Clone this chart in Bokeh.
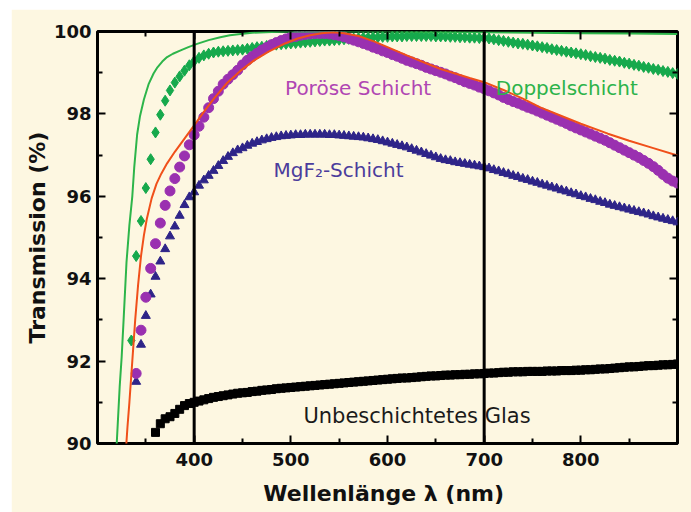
from bokeh.plotting import figure
from bokeh.models import Range1d, FixedTicker, LinearAxis, Span, Label
from bokeh.embed import file_html
from bokeh.resources import INLINE

# ---------------- data ----------------
WL = [335, 340, 345, 350, 355, 360, 365, 370, 375, 380,
      385, 390, 395, 400, 405, 410, 415, 420, 425, 430,
      435, 440, 445, 450, 455, 460, 465, 470, 475, 480,
      485, 490, 495, 500, 505, 510, 515, 520, 525, 530,
      535, 540, 545, 550, 555, 560, 565, 570, 575, 580,
      585, 590, 595, 600, 605, 610, 615, 620, 625, 630,
      635, 640, 645, 650, 655, 660, 665, 670, 675, 680,
      685, 690, 695, 700, 705, 710, 715, 720, 725, 730,
      735, 740, 745, 750, 755, 760, 765, 770, 775, 780,
      785, 790, 795, 800, 805, 810, 815, 820, 825, 830,
      835, 840, 845, 850, 855, 860, 865, 870, 875, 880,
      885, 890, 895, 900]

doppel = [92.50, 94.55, 95.40, 96.20, 96.90, 97.55, 97.98, 98.32, 98.57, 98.76,
          98.91, 99.05, 99.18, 99.28, 99.36, 99.42, 99.46, 99.49, 99.51, 99.52,
          99.53, 99.54, 99.55, 99.56, 99.58, 99.60, 99.62, 99.63, 99.65, 99.67,
          99.68, 99.69, 99.70, 99.71, 99.72, 99.73, 99.74, 99.75, 99.76, 99.77,
          99.78, 99.78, 99.79, 99.80, 99.81, 99.82, 99.83, 99.84, 99.85, 99.85,
          99.86, 99.86, 99.87, 99.87, 99.88, 99.88, 99.88, 99.89, 99.89, 99.89,
          99.89, 99.89, 99.89, 99.88, 99.88, 99.88, 99.87, 99.87, 99.86, 99.86,
          99.85, 99.85, 99.84, 99.84, 99.83, 99.81, 99.79, 99.77, 99.75, 99.73,
          99.71, 99.70, 99.68, 99.66, 99.64, 99.62, 99.60, 99.57, 99.55, 99.53,
          99.51, 99.49, 99.47, 99.45, 99.43, 99.40, 99.38, 99.36, 99.34, 99.31,
          99.29, 99.27, 99.24, 99.22, 99.19, 99.17, 99.14, 99.12, 99.09, 99.07,
          99.04, 99.02, 98.99, 98.97]

poroes = [91.70, 92.75, 93.55, 94.25, 94.85, 95.35, 95.78, 96.13, 96.43, 96.71,
          96.98, 97.25, 97.49, 97.70, 97.92, 98.15, 98.37, 98.55, 98.72, 98.84,
          98.95, 99.06, 99.19, 99.30, 99.39, 99.47, 99.55, 99.61, 99.68, 99.73,
          99.78, 99.82, 99.86, 99.88, 99.91, 99.93, 99.94, 99.95, 99.95, 99.95,
          99.94, 99.92, 99.90, 99.87, 99.83, 99.79, 99.75, 99.71, 99.67, 99.62,
          99.58, 99.53, 99.49, 99.44, 99.40, 99.35, 99.30, 99.26, 99.22, 99.18,
          99.13, 99.09, 99.05, 99.01, 98.97, 98.92, 98.88, 98.83, 98.78, 98.74,
          98.70, 98.65, 98.61, 98.56, 98.51, 98.46, 98.40, 98.35, 98.30, 98.26,
          98.21, 98.16, 98.12, 98.07, 98.02, 97.97, 97.92, 97.87, 97.82, 97.77,
          97.71, 97.66, 97.61, 97.56, 97.51, 97.46, 97.41, 97.36, 97.30, 97.24,
          97.18, 97.12, 97.06, 97.00, 96.94, 96.87, 96.80, 96.72, 96.63, 96.53,
          96.44, 96.37, 96.32]

mgf2 = [91.50, 92.40, 93.10, 93.62, 94.05, 94.42, 94.72, 95.03, 95.27, 95.53,
        95.79, 95.98, 96.10, 96.26, 96.39, 96.50, 96.62, 96.74, 96.86, 96.96,
        97.05, 97.12, 97.17, 97.23, 97.28, 97.32, 97.36, 97.39, 97.42, 97.44,
        97.46, 97.47, 97.48, 97.49, 97.49, 97.50, 97.50, 97.50, 97.50, 97.50,
        97.49, 97.49, 97.48, 97.47, 97.46, 97.45, 97.44, 97.43, 97.41, 97.39,
        97.37, 97.34, 97.31, 97.28, 97.25, 97.22, 97.19, 97.15, 97.11, 97.07,
        97.03, 96.99, 96.95, 96.91, 96.88, 96.86, 96.83, 96.81, 96.79, 96.77,
        96.75, 96.73, 96.71, 96.68, 96.64, 96.61, 96.57, 96.54, 96.50, 96.47,
        96.43, 96.40, 96.36, 96.33, 96.29, 96.26, 96.22, 96.19, 96.15, 96.12,
        96.08, 96.05, 96.01, 95.98, 95.94, 95.91, 95.87, 95.84, 95.80, 95.77,
        95.74, 95.71, 95.68, 95.65, 95.62, 95.59, 95.56, 95.52, 95.49, 95.46,
        95.43, 95.40, 95.37]

glas = [90.27, 90.48, 90.60, 90.65, 90.73, 90.83, 90.92, 90.97, 91.00, 91.03,
        91.06, 91.09, 91.12, 91.14, 91.16, 91.18, 91.20, 91.22, 91.23, 91.24,
        91.26, 91.27, 91.29, 91.30, 91.31, 91.33, 91.34, 91.35, 91.36, 91.37,
        91.38, 91.39, 91.40, 91.41, 91.42, 91.43, 91.44, 91.45, 91.46, 91.47,
        91.48, 91.49, 91.50, 91.51, 91.52, 91.53, 91.54, 91.55, 91.56, 91.57,
        91.58, 91.59, 91.59, 91.60, 91.61, 91.62, 91.63, 91.64, 91.64, 91.65,
        91.66, 91.66, 91.67, 91.67, 91.68, 91.68, 91.69, 91.69, 91.70, 91.71,
        91.71, 91.72, 91.73, 91.73, 91.74, 91.74, 91.74, 91.75, 91.75, 91.75,
        91.75, 91.76, 91.76, 91.76, 91.77, 91.77, 91.77, 91.78, 91.78, 91.79,
        91.79, 91.80, 91.81, 91.81, 91.82, 91.83, 91.84, 91.85, 91.86, 91.86,
        91.87, 91.88, 91.89, 91.89, 91.90, 91.91, 91.91, 91.92, 91.93]

theory_doppel_x = [319, 321, 323, 325, 327, 330, 333, 336, 338, 341,
                   344, 348, 353, 358, 362, 367, 372, 378, 386, 394,
                   403, 415, 427, 437, 448, 460, 480, 500, 550, 600,
                   650, 700, 750, 800, 850, 900]
theory_doppel_y = [89.6, 90.5, 91.4, 92.1, 93.0, 94.4, 95.3, 96.0, 96.7, 97.5,
                   97.95, 98.35, 98.73, 98.98, 99.13, 99.27, 99.38, 99.46, 99.54, 99.62,
                   99.70, 99.79, 99.86, 99.91, 99.94, 99.97, 99.99, 100.0, 100.0, 100.0,
                   99.99, 99.98, 99.97, 99.96, 99.95, 99.94]

theory_poroes_x = [329, 331, 333, 336, 339, 342, 345, 348, 351, 356,
                   361, 366, 372, 380, 390, 400, 410, 420, 434, 448,
                   462, 477, 493, 507, 520, 532, 544, 555, 570, 586,
                   600, 620, 640, 655, 670, 685, 700, 720, 740, 758,
                   780, 800, 828, 850, 875, 900]
theory_poroes_y = [89.7, 90.4, 91.0, 92.0, 93.0, 93.85, 94.55, 95.05, 95.45, 95.95,
                   96.30, 96.55, 96.80, 97.08, 97.40, 97.72, 98.05, 98.36, 98.75, 99.05,
                   99.30, 99.51, 99.70, 99.83, 99.91, 99.96, 99.98, 99.96, 99.89, 99.76,
                   99.62, 99.42, 99.23, 99.09, 98.98, 98.87, 98.77, 98.58, 98.37, 98.16,
                   97.95, 97.76, 97.52, 97.35, 97.17, 96.99]

x_major = [400, 500, 600, 700, 800]
x_minor = [350, 450, 550, 650, 750, 850]
y_major = [90, 92, 94, 96, 98, 100]
y_minor = [91, 93, 95, 97, 99]
marker_lines = [400, 700]

labels = ["Poröse Schicht", "Doppelschicht", "MgF\u2082-Schicht", "Unbeschichtetes Glas"]
label_x = [494, 712, 482, 513]
label_y = [98.62, 98.63, 96.63, 90.66]

# ---------------- styling ----------------
CREAM = "#fdf7e1"
GREEN = "#16a94c"
GREEN_LINE = "#2db54a"
PURPLE = "#9a30b0"
INDIGO = "#2e2488"
ORANGE = "#f0501a"
label_colors = ["#b046b3", "#2db34a", "#4b3c9c", "#1a1a1a"]
label_sizes = ["20px", "20px", "20px", "21px"]

p = figure(width=680, height=503, margin=(9, 0, 0, 11),
           output_backend="svg", toolbar_location=None,
           x_range=Range1d(300, 900), y_range=Range1d(90, 100),
           min_border_left=86, min_border_right=14, min_border_top=22, min_border_bottom=69)
p.background_fill_color = CREAM
p.border_fill_color = CREAM
p.outline_line_color = "black"
p.outline_line_width = 3
p.grid.visible = False

xt = FixedTicker(ticks=x_major, minor_ticks=x_minor)
yt = FixedTicker(ticks=y_major, minor_ticks=y_minor)
bottom = p.below[0]
left = p.left[0]
bottom.ticker = xt
left.ticker = yt

top = LinearAxis(ticker=xt)
right = LinearAxis(ticker=yt)
p.add_layout(top, "above")
p.add_layout(right, "right")

for ax in [bottom, left, top, right]:
    ax.axis_line_color = None
    ax.major_tick_in = 8
    ax.major_tick_out = 0
    ax.minor_tick_in = 5
    ax.minor_tick_out = 0
    ax.major_tick_line_width = 2
    ax.minor_tick_line_width = 2
    ax.major_tick_line_color = "black"
    ax.minor_tick_line_color = "black"
    ax.major_label_text_font = "DejaVu Sans"
    ax.major_label_text_font_style = "bold"
    ax.major_label_text_font_size = "18px"
    ax.major_label_text_color = "#111111"

for ax in [top, right]:
    ax.major_label_text_font_size = "0px"
    ax.major_label_text_color = None
    ax.major_label_standoff = 0

bottom.major_label_standoff = 9
left.major_label_standoff = 6
bottom.axis_label = "Wellenlänge \u03bb  (nm)"
left.axis_label = "Transmission (%)"
for ax in [bottom, left]:
    ax.axis_label_text_font = "DejaVu Sans"
    ax.axis_label_text_font_style = "bold"
    ax.axis_label_text_font_size = "22px"
    ax.axis_label_text_color = "#111111"
bottom.axis_label_standoff = 12
left.axis_label_standoff = 1

# ---------------- glyphs ----------------
p.scatter(WL[5:], glas, marker="square", size=8, color="black")
p.scatter(WL[1:], mgf2, marker="triangle", size=9, color=INDIGO)
p.scatter(WL, doppel, marker="diamond", size=11, color=GREEN)
p.scatter(WL[1:], poroes, marker="circle", size=10, color=PURPLE)
p.line(theory_doppel_x, theory_doppel_y, line_color=GREEN_LINE, line_width=2)
p.line(theory_poroes_x, theory_poroes_y, line_color=ORANGE, line_width=2)

for xv in marker_lines:
    p.add_layout(Span(location=xv, dimension="height", line_color="black", line_width=3))

for t, xv, yv, c, s in zip(labels, label_x, label_y, label_colors, label_sizes):
    p.add_layout(Label(x=xv, y=yv, text=t, text_color=c, text_font="DejaVu Sans",
                       text_font_size=s, text_baseline="alphabetic"))

open("out.html", "w").write(file_html(p, INLINE))
